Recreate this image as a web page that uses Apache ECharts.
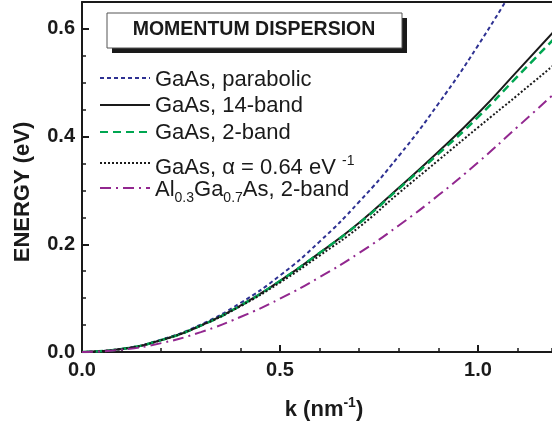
<!DOCTYPE html>
<html>
<head>
<meta charset="utf-8">
<script src="https://cdn.jsdelivr.net/npm/echarts@6/dist/echarts.min.js"></script>
<style>
    html, body { margin: 0; padding: 0; background: #fff; }
    #main { width: 552px; height: 423px; }
</style>
</head>
<body>
<div id="main"></div>
<script>
// k (nm^-1)
const kValues = [0, 0.1, 0.2, 0.3, 0.4, 0.5, 0.6, 0.7, 0.8, 0.9, 1.0, 1.1, 1.19];
// ENERGY (eV)
const parabolic = [0, 0.0057, 0.023, 0.051, 0.091, 0.142, 0.205, 0.279, 0.364, 0.461, 0.569, 0.688];
const band14 = [0, 0.0056, 0.022, 0.049, 0.086, 0.132, 0.184, 0.240, 0.305, 0.372, 0.443, 0.522, 0.594];
const band2 = [0, 0.0056, 0.022, 0.049, 0.086, 0.132, 0.184, 0.239, 0.303, 0.368, 0.436, 0.512, 0.580];
const alphaFit = [0, 0.0056, 0.022, 0.049, 0.085, 0.129, 0.179, 0.232, 0.295, 0.356, 0.417, 0.477, 0.532];
const alGaAs = [0, 0.0042, 0.0165, 0.037, 0.065, 0.099, 0.139, 0.184, 0.235, 0.291, 0.352, 0.418, 0.478];

const names = ['GaAs, parabolic', 'GaAs, 14-band', 'GaAs, 2-band', 'GaAs, α = 0.64 eV-1', 'Al0.3Ga0.7As, 2-band'];
// 图例线段和文字分开放
const iconTops = [72, 99, 126, 157, 182];
const textTops = [69, 95, 122, 154, 179];

const ink = '#1a1a1a';
const font = 'Liberation Sans';

// 图例里的上下标
const richNames = {
    'GaAs, α = 0.64 eV-1': 'GaAs, α = 0.64 eV {sup|-1}',
    'Al0.3Ga0.7As, 2-band': 'Al{sub|0.3}Ga{sub|0.7}As, 2-band'
};

const subStyle = { fontFamily: font, fontSize: 14, lineHeight: 1, height: 6, verticalAlign: 'bottom', color: ink };
const supStyle = { fontFamily: font, fontSize: 14, lineHeight: 1, height: 8, verticalAlign: 'top', color: ink };

function pairs(values) {
    return values.map((v, i) => [kValues[i], v]);
}

function makeSeries(name, values, color, type, width) {
    return {
        name: name,
        type: 'line',
        data: pairs(values),
        symbol: 'none',
        smooth: true,
        clip: true,
        lineStyle: { color: color, width: width, type: type },
        itemStyle: { color: color },
        emphasis: { disabled: true }
    };
}

const iconLegends = names.map((n, i) => ({
    data: [n],
    left: 99,
    top: iconTops[i],
    padding: 0,
    itemWidth: 50,
    itemHeight: 12,
    selectedMode: false,
    itemStyle: { color: 'transparent', borderWidth: 0 },
    formatter: () => ''
}));

const textLegends = names.map((n, i) => ({
    data: [n],
    left: 150,
    top: textTops[i],
    padding: 0,
    itemWidth: 0,
    itemHeight: 0,
    selectedMode: false,
    itemStyle: { color: 'transparent', borderWidth: 0 },
    lineStyle: { color: 'transparent', width: 0 },
    formatter: function (name) {
        return richNames[name] || name;
    },
    textStyle: {
        fontFamily: font,
        fontSize: 22,
        lineHeight: 22,
        color: ink,
        rich: { sub: subStyle, sup: supStyle }
    }
}));

const tickLine = { color: ink, width: 2 };

const myChart = echarts.init(document.getElementById('main'));

const option = {
    animation: false,
    backgroundColor: '#fff',
    grid: { left: 82, right: 0, top: 2, bottom: 71, outerBoundsMode: 'none' },
    legend: iconLegends.concat(textLegends),
    xAxis: [{
        type: 'value',
        min: 0,
        max: 1.187,
        interval: 0.5,
        position: 'bottom',
        axisLine: { lineStyle: { color: ink, width: 2 } },
        axisTick: { inside: true, length: 7, lineStyle: tickLine },
        axisLabel: {
            fontFamily: font, fontSize: 20, fontWeight: 'bold', color: ink, margin: 8,
            showMaxLabel: false,
            formatter: v => v.toFixed(1)
        },
        splitLine: { show: false },
        name: 'k (nm{sup|-1})',
        nameLocation: 'middle',
        nameGap: 47,
        nameMoveOverlap: false,
        nameTextStyle: {
            fontFamily: font, fontSize: 22, fontWeight: 'bold', color: ink, lineHeight: 22,
            padding: [0, 0, 0, 14],
            rich: {
                sup: Object.assign({}, supStyle, { fontWeight: 'bold' })
            }
        }
    }, {
        // 小刻度
        type: 'value',
        min: 0,
        max: 1.187,
        interval: 0.1,
        position: 'bottom',
        axisLine: { show: false },
        axisTick: { inside: true, length: 4, lineStyle: { color: ink, width: 1.5 } },
        axisLabel: { show: false },
        splitLine: { show: false }
    }, {
        type: 'value',
        min: 0,
        max: 1.187,
        position: 'top',
        axisLine: { lineStyle: { color: ink, width: 2 } },
        axisTick: { show: false },
        axisLabel: { show: false },
        splitLine: { show: false }
    }],
    yAxis: [{
        type: 'value',
        min: 0,
        max: 0.65,
        interval: 0.2,
        position: 'left',
        axisLine: { show: true, lineStyle: { color: ink, width: 2 } },
        axisTick: { inside: true, length: 7, lineStyle: tickLine },
        axisLabel: {
            fontFamily: font, fontSize: 20, fontWeight: 'bold', color: ink, margin: 7,
            showMaxLabel: false,
            formatter: v => v.toFixed(1)
        },
        splitLine: { show: false },
        name: 'ENERGY (eV)',
        nameLocation: 'middle',
        nameRotate: 90,
        nameGap: 48,
        nameMoveOverlap: false,
        nameTextStyle: {
            fontFamily: font, fontSize: 22, fontWeight: 'bold', color: ink,
            padding: [0, 30, 0, 0]
        }
    }, {
        type: 'value',
        min: 0,
        max: 0.65,
        interval: 0.05,
        position: 'left',
        axisLine: { show: false },
        axisTick: { inside: true, length: 4, lineStyle: { color: ink, width: 1.5 } },
        axisLabel: { show: false },
        splitLine: { show: false }
    }],
    graphic: [{
        type: 'rect',
        shape: { x: 112, y: 18, width: 295, height: 35 },
        style: { fill: ink }
    }, {
        type: 'rect',
        shape: { x: 107, y: 13, width: 295, height: 35 },
        style: { fill: '#fff', stroke: '#555', lineWidth: 1 }
    }, {
        type: 'text',
        x: 254,
        y: 30,
        style: {
            text: 'MOMENTUM DISPERSION',
            fontFamily: font,
            fontSize: 19.5,
            fontWeight: 'bold',
            fill: ink,
            textAlign: 'center',
            textVerticalAlign: 'middle'
        }
    }],
    series: [
        makeSeries(names[0], parabolic, '#2e3192', [4, 3], 2),
        makeSeries(names[1], band14, ink, 'solid', 2),
        makeSeries(names[2], band2, '#00a651', [8, 5], 2.5),
        makeSeries(names[3], alphaFit, ink, [2, 2], 2),
        makeSeries(names[4], alGaAs, '#92278f', [11, 5, 2, 5], 2)
    ]
};

myChart.setOption(option);
</script>
</body>
</html>
